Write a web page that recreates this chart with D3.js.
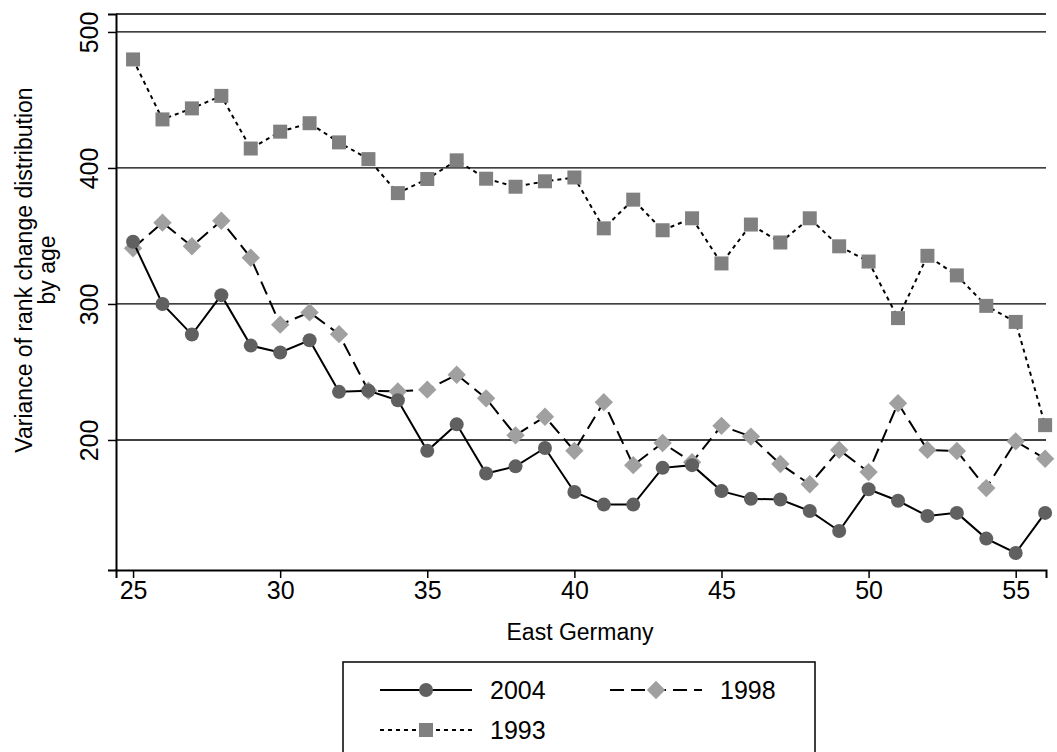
<!DOCTYPE html>
<html>
<head>
<meta charset="utf-8">
<style>
  body { margin: 0; background: #fff; }
  text { font-family: "Liberation Sans", Arial, sans-serif; fill: #000; }
</style>
</head>
<body>
<svg id="chart" width="1057" height="752"></svg>
<script src="https://d3js.org/d3.v7.min.js"></script>
<script>
// ages on the x axis
var ages = d3.range(25, 57);
var v2004 = [345.8, 300, 277.5, 306.5, 269.4, 264.3, 273.3, 235.4, 236.2, 229.2, 192, 211.5, 175.3, 180.6, 194.1, 161.8,
  152.5, 152.5, 179.5, 181.5, 162.4, 156.7, 156.2, 147.8, 133.1, 163.8, 155.3, 144.1, 146.4, 127.5, 116.9, 146.4];
var v1998 = [341, 359.8, 342.4, 361.2, 334, 284.8, 293.8, 277.8, 236.2, 235.7, 237, 248, 230.6, 203.4, 217.1, 192,
  227.8, 181.5, 197.8, 183.7, 210.4, 202.5, 182.3, 167.4, 192.7, 176.4, 227, 192.7, 191.9, 164.6, 199, 186.2];
var v1993 = [479.8, 435.7, 443.8, 453, 414.3, 426.7, 432.9, 418.8, 406.5, 381.5, 391.9, 405.6, 392.1, 386.2, 390.2, 393,
  355.6, 376.7, 354.2, 363, 329.8, 358.4, 345.2, 363, 342.4, 331.2, 289.6, 335.4, 321, 298.6, 286.8, 210.9];
var xTicks = [25, 30, 35, 40, 45, 50, 55];
var yTicks = [200, 300, 400, 500];

var series = [
  { name: "2004", values: v2004, dash: null, shape: "circle", color: "#606060" },
  { name: "1998", values: v1998, dash: "14,7", shape: "diamond", color: "#a0a0a0" },
  { name: "1993", values: v1993, dash: "4,4", shape: "square", color: "#808080" }
];

var svg = d3.select("#chart");
var pl = 116, pr = 1046, pt = 14, pb = 570;

var x = d3.scaleLinear().domain([24.42, 56.03]).range([pl, pr]);
var y = d3.scaleLinear().domain([104.4, 513.2]).range([pb, pt]);

// gridlines
svg.append("g").selectAll("line").data(yTicks).enter().append("line")
  .attr("x1", pl).attr("x2", pr)
  .attr("y1", function(d) { return y(d); }).attr("y2", function(d) { return y(d); })
  .attr("stroke", "#000").attr("stroke-width", 1.3);
svg.append("line").attr("x1", pl).attr("x2", pr).attr("y1", pt).attr("y2", pt)
  .attr("stroke", "#000").attr("stroke-width", 1.3);

// axes
var xAxis = svg.append("g").attr("transform", "translate(0," + pb + ")")
  .call(d3.axisBottom(x).tickValues(xTicks).tickSize(8).tickPadding(3));
var yAxis = svg.append("g").attr("transform", "translate(" + pl + ",0)")
  .call(d3.axisLeft(y).tickValues(yTicks).tickSize(8).tickPadding(4));
[xAxis, yAxis].forEach(function(a) {
  a.select(".domain").attr("stroke", "#000").attr("stroke-width", 2);
  a.selectAll(".tick line").attr("stroke", "#000").attr("stroke-width", 1.5);
  a.selectAll(".tick text").style("font-size", "25px").style("font-family", "Liberation Sans, Arial, sans-serif");
});
yAxis.selectAll(".tick text")
  .attr("text-anchor", "middle")
  .attr("transform", "rotate(-90)")
  .attr("x", 0).attr("y", -18).attr("dy", 0);

svg.append("text").attr("transform", "translate(32,270) rotate(-90)")
  .attr("text-anchor", "middle").style("font-size", "23px").text("Variance of rank change distribution");
svg.append("text").attr("transform", "translate(55,270) rotate(-90)")
  .attr("text-anchor", "middle").style("font-size", "23px").text("by age");
svg.append("text").attr("x", 580).attr("y", 640)
  .attr("text-anchor", "middle").style("font-size", "23px").text("East Germany");

function marker(g, shape, color, cx, cy) {
  if (shape === "circle") {
    g.append("circle").attr("cx", cx).attr("cy", cy).attr("r", 7).attr("fill", color);
  } else if (shape === "diamond") {
    g.append("rect").attr("x", -6.5).attr("y", -6.5).attr("width", 13).attr("height", 13)
      .attr("transform", "translate(" + cx + "," + cy + ") rotate(45)").attr("fill", color);
  } else {
    g.append("rect").attr("x", cx - 7).attr("y", cy - 7).attr("width", 14).attr("height", 14).attr("fill", color);
  }
}

var line = d3.line().x(function(d, i) { return x(ages[i]); }).y(function(d) { return y(d); });
series.slice().reverse().forEach(function(s) {
  var g = svg.append("g");
  g.append("path").attr("d", line(s.values)).attr("fill", "none")
    .attr("stroke", "#000").attr("stroke-width", 2).attr("stroke-dasharray", s.dash);
  s.values.forEach(function(v, i) { marker(g, s.shape, s.color, x(ages[i]), y(v)); });
});

// legend
var lg = svg.append("g");
lg.append("rect").attr("x", 343).attr("y", 662).attr("width", 472).attr("height", 100)
  .attr("fill", "#fff").attr("stroke", "#000").attr("stroke-width", 1.5);
var pos = [[380, 690], [610, 690], [380, 730]];
series.forEach(function(s, i) {
  var px = pos[i][0], py = pos[i][1];
  lg.append("line").attr("x1", px).attr("x2", px + 92).attr("y1", py).attr("y2", py)
    .attr("stroke", "#000").attr("stroke-width", 2).attr("stroke-dasharray", s.dash);
  marker(lg, s.shape, s.color, px + 46, py);
  lg.append("text").attr("x", px + 110).attr("y", py + 9).style("font-size", "25px").text(s.name);
});
</script>
</body>
</html>
